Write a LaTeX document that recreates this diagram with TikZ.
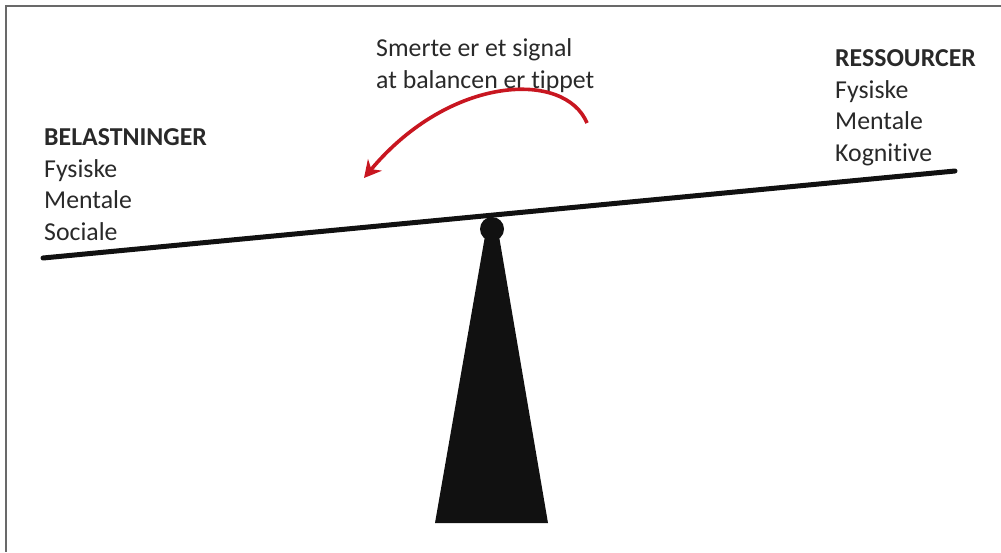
\documentclass[tikz,border=0pt]{standalone}
\usepackage{fontspec}
\setmainfont{Carlito}[Ligatures={NoCommon,NoContextual}]
\usetikzlibrary{arrows.meta, positioning}
\definecolor{SignalRed}{RGB}{200, 22, 32}
\definecolor{FrameGray}{RGB}{105, 105, 105}
\definecolor{BeamBlack}{RGB}{17, 17, 17}

\begin{document}
\begin{tikzpicture}[
    x=1pt,
    y=-1pt,
    labeltext/.style={
        inner sep=0pt,
        anchor=base west,
        align=left,
        font=\fontsize{25.8}{31.5}\selectfont,
        text=BeamBlack!90
    },
    beamline/.style={
        draw=BeamBlack,
        line width=5pt,
        line cap=round
    },
    signalarrow/.style={
        draw=SignalRed,
        line width=3.6pt,
        -{Stealth[length=17pt,width=18pt]}
    }
]
\useasboundingbox (0,0) rectangle (1001,552);
% -------------------------------------------------------------
% FRAME
% -------------------------------------------------------------
\draw[FrameGray, line width=2pt] (1001,5.5) -- (5.5,5.5) -- (5.5,552);
% -------------------------------------------------------------
% FULCRUM
% -------------------------------------------------------------
\fill[BeamBlack] (485,236) -- (499,236) -- (548,523) -- (435,523) -- cycle;
\node[circle, fill=BeamBlack, inner sep=0pt, minimum size=24pt] (pivotNode) at (492,229) {};
% -------------------------------------------------------------
% BEAM
% -------------------------------------------------------------
\coordinate (beamLeft) at (43,258);
\coordinate (beamRight) at (955,171);
\draw[beamline] (beamLeft) -- (beamRight);
% -------------------------------------------------------------
% LOADS (anchored at last baseline)
% -------------------------------------------------------------
\node[labeltext] (loadsNode) at (44,240)
{\textbf{BELASTNINGER}\\Fysiske\\Mentale\\Sociale};
% -------------------------------------------------------------
% RESOURCES
% -------------------------------------------------------------
\node[labeltext] (resourcesNode) at (835,161)
{\textbf{RESSOURCER}\\Fysiske\\Mentale\\Kognitive};
% -------------------------------------------------------------
% SIGNAL
% -------------------------------------------------------------
\node[labeltext] (signalNode) at (376,88)
{Smerte er et signal\\at balancen er tippet};
\coordinate (arrowStart) at (587,123);
\coordinate (arrowEnd) at (364,178);
\draw[signalarrow]
(arrowStart)
.. controls (565,70) and (450,75) ..
(arrowEnd);
\end{tikzpicture}
\end{document}
